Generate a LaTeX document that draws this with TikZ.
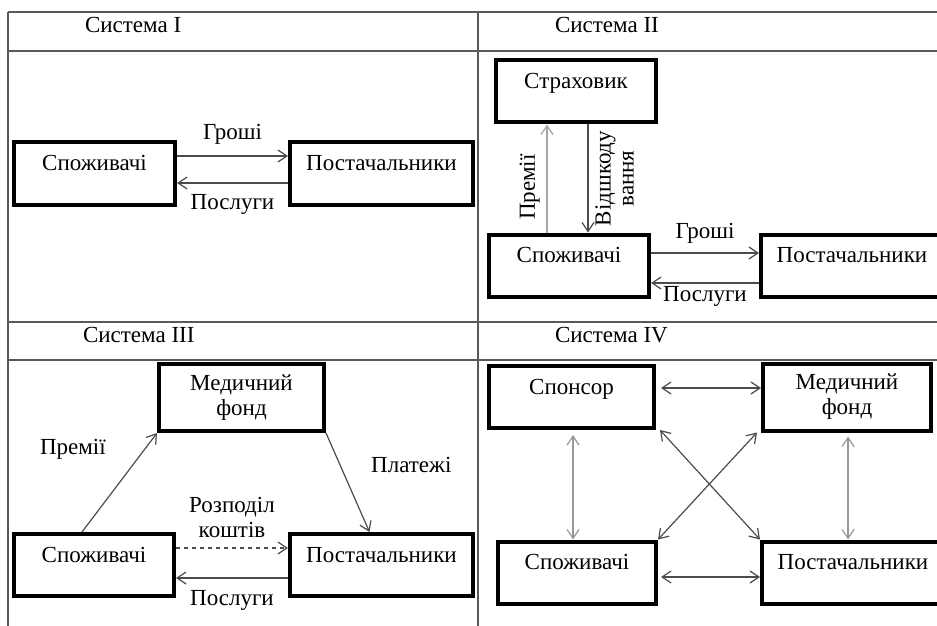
\documentclass[tikz,border=0pt]{standalone}
\usepackage{fontspec}
\setmainfont{Liberation Serif}
\usetikzlibrary{arrows.meta}

\begin{document}
\begin{tikzpicture}[
  x=0.5pt, y=-0.5pt,
  >={Straight Barb[length=4.5pt, width=6pt]},
  font=\fontsize{11.5}{12.5}\selectfont,
  grid/.style={draw=black!65, line width=0.8pt},
  flow/.style={->, line width=0.6pt, black!70},
  both/.style={<->, line width=0.6pt, black!70},
  basebox/.style={draw=black, line width=2pt, inner xsep=0pt, align=center, fill=white},
  onebox/.style={basebox, text height=14pt, text depth=17pt, inner ysep=0pt},
  twobox/.style={basebox, minimum height=33.5pt},
  head/.style={anchor=base west}
]
\useasboundingbox (0,0) rectangle (937,626);
\fill[white] (0,0) rectangle (937,626);
\clip (0,0) rectangle (937,626);

% table frame
\draw[grid] (8,12) -- (937,12);
\draw[grid] (8,51) -- (937,51);
\draw[grid] (8,322) -- (937,322);
\draw[grid] (8,360) -- (937,360);
\draw[grid] (8,12) -- (8,626);
\draw[grid] (478,12) -- (478,626);

\node[head] (h1) at (78,33)  {Система I};
\node[head] (h2) at (548,33) {Система II};
\node[head] (h3) at (76,342) {Система III};
\node[head] (h4) at (548,342) {Система IV};

% Система I
\node[onebox, minimum width=80.5pt] (cons1) at (94.5,173.5) {Споживачі};
\node[onebox, minimum width=91.5pt] (supp1) at (381.5,173.5) {Постачальники};
\draw[flow] ([yshift=8.75pt]cons1.east) -- node[midway, above=2pt, text=black]{Гроші} ([yshift=8.75pt]supp1.west);
\draw[flow] ([yshift=-4.75pt]supp1.west) -- node[midway, below=2pt, text=black]{Послуги} ([yshift=-4.75pt]cons1.east);

% Система II
\node[onebox, minimum width=80pt] (ins2)  at (576,91.5)  {Страховик};
\node[onebox, minimum width=80pt] (cons2) at (569,265.5) {Споживачі};
\node[onebox, minimum width=91pt] (supp2) at (852,265.5) {Постачальники};
\draw[flow, gray!70] ([xshift=-11pt]cons2.north) -- node[pos=.42, sloped, above, text=black]{Премії} ([xshift=-14.5pt]ins2.south);
\draw[flow] ([xshift=6pt]ins2.south) -- node[midway, rotate=90, anchor=north, align=center, text=black, font=\fontsize{11.5}{11.5}\selectfont]{Відшкоду\\вання} ([xshift=9.5pt]cons2.north);
\draw[flow] ([yshift=6.25pt]cons2.east) -- node[midway, above=1pt, text=black]{Гроші} ([yshift=6.25pt]supp2.west);
\draw[flow] ([yshift=-8.75pt]supp2.west) -- node[midway, below=-2pt, text=black]{Послуги} ([yshift=-8.75pt]cons2.east);

% Система III
\node[twobox, minimum width=82.5pt] (fund3) at (241.5,397.5) {Медичний\\фонд};
\node[onebox, minimum width=80pt]   (cons3) at (94,565)    {Споживачі};
\node[onebox, minimum width=91.5pt] (supp3) at (381.5,565) {Постачальники};
\draw[flow] ([xshift=-6pt]cons3.north) -- node[pos=.84, left=16pt, text=black]{Премії} (fund3.south west);
\draw[flow] (fund3.south east) -- node[pos=.32, right=12pt, text=black]{Платежі} ([xshift=-6pt]supp3.north);
\draw[flow, dashed, dash pattern=on 2pt off 2pt] ([yshift=8.5pt]cons3.east) -- node[midway, above=1.5pt, align=center, text=black]{Розподіл\\коштів} ([yshift=8.5pt]supp3.west);
\draw[flow] ([yshift=-6.5pt]supp3.west) -- node[midway, below=2.5pt, text=black]{Послуги} ([yshift=-6.5pt]cons3.east);

% Система IV
\node[onebox, minimum width=82.5pt] (spon4) at (571.5,397) {Спонсор};
\node[twobox, minimum width=84pt]   (fund4) at (847,397)   {Медичний\\фонд};
\node[onebox, minimum width=79pt]   (cons4) at (577,572.5) {Споживачі};
\node[onebox, minimum width=91pt]   (supp4) at (853,572.5) {Постачальники};
\draw[both] ([xshift=2.5pt, yshift=4.5pt]spon4.east) -- ([yshift=4.5pt]fund4.west);
\draw[both] ([xshift=1.5pt, yshift=-2.25pt]cons4.east) -- ([yshift=-2.25pt]supp4.west);
\draw[both, gray!80] ([xshift=0.75pt, yshift=-2.5pt]spon4.south) -- ([xshift=-2pt]cons4.north);
\draw[both, gray!80] ([xshift=0.5pt, yshift=-2pt]fund4.south) -- ([xshift=-2.5pt]supp4.north);
\draw[both] ([xshift=2pt]spon4.south east) -- (supp4.north west);
\draw[both] ([xshift=-2pt]fund4.south west) -- (cons4.north east);

\end{tikzpicture}
\end{document}
